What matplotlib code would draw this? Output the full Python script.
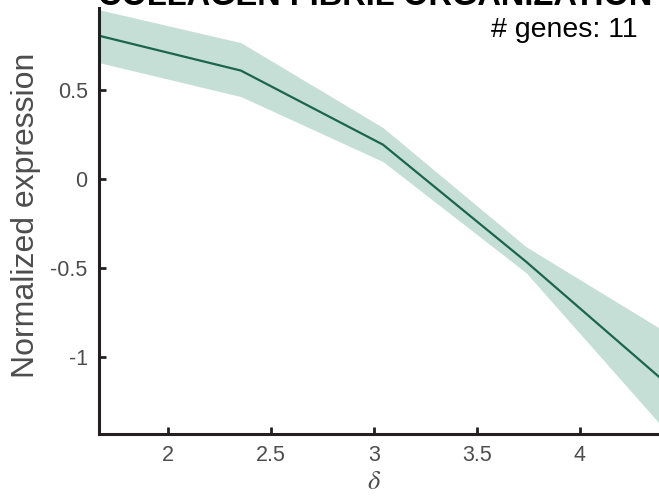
import matplotlib
matplotlib.use('Agg')
from matplotlib import pyplot as plt
import numpy as np

plt.rcParams['font.family'] = ['Liberation Sans', 'DejaVu Sans']
plt.rcParams['mathtext.fontset'] = 'stix'

# data
delta = [1.665, 2.355, 3.045, 3.74, 4.385]
mean_expr = [0.803, 0.607, 0.191, -0.466, -1.112]
upper = [0.949, 0.764, 0.287, -0.382, -0.837]
lower = [0.652, 0.461, 0.096, -0.528, -1.371]
yticks = [-1, -0.5, 0, 0.5]
ytick_labels = ['-1', '-0.5', '0', '0.5']
xticks = [2, 2.5, 3, 3.5, 4]
xtick_labels = ['2', '2.5', '3', '3.5', '4']

fig = plt.figure(figsize=(6.59, 4.98), dpi=100)
ax = fig.add_axes([0.150, 0.1285, 0.85, 0.856])

ax.fill_between(delta, lower, upper, color='#c6dfd6', linewidth=0)
ax.plot(delta, mean_expr, color='#1b654c', linewidth=1.6)

ax.set_xlim(1.665, 4.385)
ax.set_ylim(-1.433, 0.96)
ax.set_xticks(xticks)
ax.set_xticklabels(xtick_labels)
ax.set_yticks(yticks)
ax.set_yticklabels(ytick_labels)

for s in ['top', 'right']:
    ax.spines[s].set_visible(False)
for s in ['left', 'bottom']:
    ax.spines[s].set_linewidth(2.2)
    ax.spines[s].set_color('#231f20')
ax.tick_params(direction='in', length=5, width=2, colors='#231f20',
               labelcolor='#4d4d4d', labelsize=15.5, pad=8)

ax.set_ylabel('Normalized expression', fontsize=23, color='#4d4d4d')
ax.yaxis.set_label_coords(-0.103, 0.514)
ax.set_xlabel(r'$\delta$', fontsize=19, color='#4d4d4d')
ax.xaxis.set_label_coords(0.492, -0.085)

fig.text(0.569, 0.989, 'COLLAGEN FIBRIL ORGANIZATION', ha='center', va='baseline',
         fontsize=23.5, fontweight='bold', color='black')
fig.text(0.967, 0.926, '# genes: 11', ha='right', va='baseline',
         fontsize=20.5, color='black')

fig.savefig('out.png', dpi=100)
